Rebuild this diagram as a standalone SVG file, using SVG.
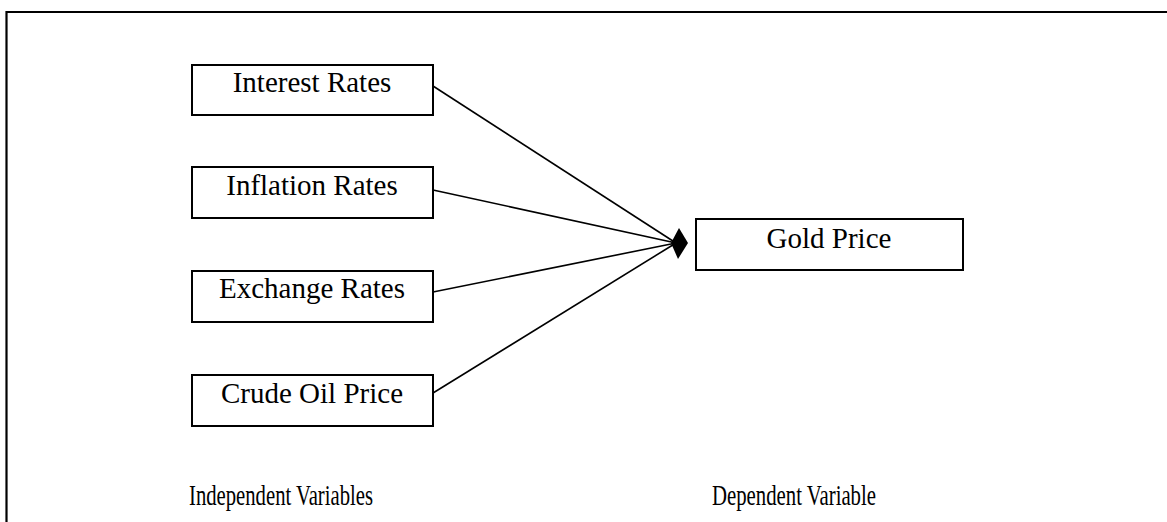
<svg xmlns="http://www.w3.org/2000/svg" width="1167" height="522" viewBox="0 0 1167 522">
  <style>
    .box { fill: #fff; stroke: #000; stroke-width: 2; }
    .lbl { font-size: 29px; fill: #000; text-anchor: middle; }
    .cap { font-size: 30px; fill: #000; }
    .conn { stroke: #000; stroke-width: 1.6; fill: none; }
    .frame { stroke: #000; stroke-width: 2.2; fill: none; }
  </style>
  <rect width="1167" height="522" fill="#fff"/>

  <!-- outer frame (open on right and bottom) -->
  <path class="frame" d="M6.5,522 V12 H1167"/>

  <!-- connectors -->
  <g id="connectors">
    <line class="conn" x1="433" y1="86" x2="676" y2="243"/>
    <line class="conn" x1="433" y1="190" x2="676" y2="243"/>
    <line class="conn" x1="433" y1="292" x2="676" y2="243"/>
    <line class="conn" x1="433" y1="393" x2="676" y2="243"/>
    <polygon points="679,228 688,243 678,259 671,243" fill="#000"/>
  </g>

  <g font-family="'Liberation Serif', 'DejaVu Serif', serif">
    <g id="interest-rates">
      <rect class="box" x="192" y="65" width="241" height="50"/>
      <text class="lbl" x="312" y="92">Interest Rates</text>
    </g>
    <g id="inflation-rates">
      <rect class="box" x="192" y="167" width="241" height="51"/>
      <text class="lbl" x="312" y="195">Inflation Rates</text>
    </g>
    <g id="exchange-rates">
      <rect class="box" x="192" y="271" width="241" height="51"/>
      <text class="lbl" x="312" y="298">Exchange Rates</text>
    </g>
    <g id="crude-oil-price">
      <rect class="box" x="192" y="375" width="241" height="51"/>
      <text class="lbl" x="312" y="403">Crude Oil Price</text>
    </g>
    <g id="gold-price">
      <rect class="box" x="696" y="219" width="267" height="51"/>
      <text class="lbl" x="829" y="248">Gold Price</text>
    </g>

    <g id="captions">
      <text class="cap" x="189" y="505" textLength="184" lengthAdjust="spacingAndGlyphs">Independent Variables</text>
      <text class="cap" x="712" y="505" textLength="164" lengthAdjust="spacingAndGlyphs">Dependent Variable</text>
    </g>
  </g>
</svg>
